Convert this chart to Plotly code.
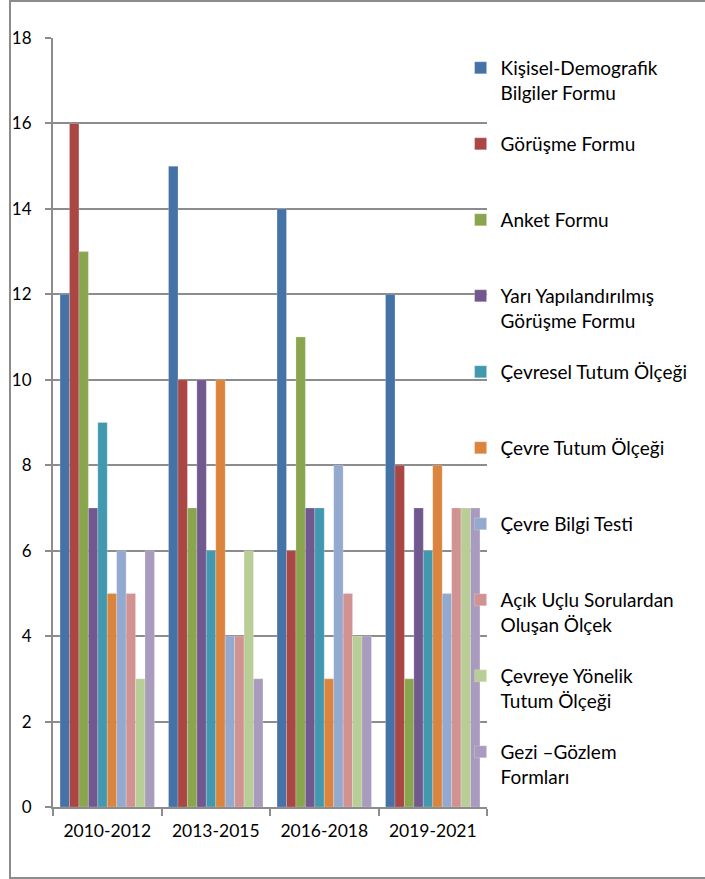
import plotly.graph_objects as go

periods = ["2010-2012", "2013-2015", "2016-2018", "2019-2021"]

series_names = [
    "Kişisel-Demografik<br>Bilgiler Formu",
    "Görüşme Formu<br> ",
    "Anket Formu<br> ",
    "Yarı Yapılandırılmış<br>Görüşme Formu",
    "Çevresel Tutum Ölçeği<br> ",
    "Çevre Tutum Ölçeği<br> ",
    "Çevre Bilgi Testi<br> ",
    "Açık Uçlu Sorulardan<br>Oluşan Ölçek",
    "Çevreye Yönelik<br>Tutum Ölçeği",
    "Gezi –Gözlem<br>Formları",
]

kisisel = [12, 15, 14, 12]
gorusme = [16, 10, 6, 8]
anket = [13, 7, 11, 3]
yari_yapilandirilmis = [7, 10, 7, 7]
cevresel_tutum = [9, 6, 7, 6]
cevre_tutum = [5, 10, 3, 8]
cevre_bilgi = [6, 4, 8, 5]
acik_uclu = [5, 4, 5, 7]
cevreye_yonelik = [3, 6, 4, 7]
gezi_gozlem = [6, 3, 4, 7]

series_values = [
    kisisel, gorusme, anket, yari_yapilandirilmis, cevresel_tutum,
    cevre_tutum, cevre_bilgi, acik_uclu, cevreye_yonelik, gezi_gozlem,
]

colors = [
    "#4572A7", "#AA4643", "#89A54E", "#71588F", "#4198AF",
    "#DB843D", "#93A9CF", "#D19392", "#B9CD96", "#A99BBD",
]

fig = go.Figure()
for name, vals, col in zip(series_names, series_values, colors):
    fig.add_trace(go.Bar(
        x=periods, y=vals, name=name,
        marker=dict(color=col, line=dict(color="rgba(255,255,255,0.35)", width=0.6)),
        legendgroup=name,
    ))

W, H = 705, 879
L, R, T, B = 48, 213, 38, 72
pw = W - L - R
ph = H - T - B

def px_x(x):
    return (x - L) / pw

def px_y(y):
    return 1 - (y - T) / ph

grid_col = "#8C8C8C"

fig.update_layout(
    width=W, height=H,
    margin=dict(l=L, r=R, t=T, b=B),
    paper_bgcolor="white", plot_bgcolor="white",
    barmode="group", bargap=0.13, bargroupgap=0,
    font=dict(family="Lato", size=16, color="black"),
    legend=dict(
        x=px_x(465), xanchor="left", y=px_y(49), yanchor="top",
        font=dict(family="Lato", size=19, color="black"),
        valign="top", tracegroupgap=23.6, itemclick=False,
        bgcolor="rgba(0,0,0,0)",
    ),
    xaxis=dict(
        showline=True, linecolor=grid_col, linewidth=2,
        ticks="outside", tickson="boundaries", ticklen=7, tickcolor=grid_col, tickwidth=2,
        tickfont=dict(family="Lato", size=17.5, color="black"),
        ticklabelstandoff=7,
    ),
    yaxis=dict(
        range=[0, 18], dtick=2,
        showgrid=True, gridcolor=grid_col, gridwidth=2,
        showline=True, linecolor=grid_col, linewidth=2,
        ticks="outside", ticklen=6, tickcolor=grid_col, tickwidth=2,
        tickfont=dict(family="Lato", size=17, color="black"),
        ticklabelstandoff=10, zeroline=False,
    ),
    shapes=[
        dict(type="rect", xref="paper", yref="paper",
             x0=px_x(4), x1=px_x(720), y0=px_y(878), y1=px_y(1),
             line=dict(color="#8C8C8C", width=2), fillcolor="rgba(0,0,0,0)",
             layer="below"),
    ],
)

fig.write_html("out.html")
